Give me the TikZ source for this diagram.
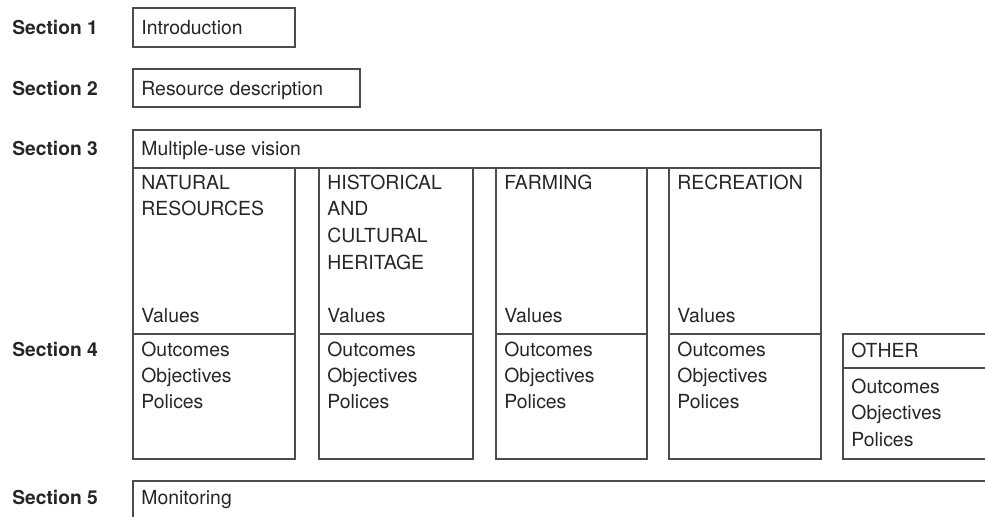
\documentclass[tikz,border=0pt]{standalone}
\usepackage{fontspec}
\setmainfont{TeX Gyre Heros}
\begin{document}
\begin{tikzpicture}[x=0.5pt,y=-0.5pt,
  boxline/.style={draw=black!70,line width=0.7pt},
  txt/.style={anchor=base west,inner sep=0pt,text=black!85,font=\fontsize{9.7}{13}\selectfont},
  sec/.style={txt,font=\fontsize{9.6}{13}\selectfont\bfseries}]
\useasboundingbox (0,0) rectangle (985,517);
\clip (0,0) rectangle (985,517);
% section labels
\node[sec] (s1) at (12,35) {Section 1};
\node[sec] (s2) at (12,96) {Section 2};
\node[sec] (s3) at (12,156) {Section 3};
\node[sec] (s4) at (12,357) {Section 4};
\node[sec] (s5) at (12,505) {Section 5};
% section 1, 2
\draw[boxline] (133,8) rectangle (295,47);
\node[txt] (intro) at (141,35) {Introduction};
\draw[boxline] (133,69) rectangle (360,107);
\node[txt] (resdesc) at (141,96) {Resource description};
% section 3 header
\draw[boxline] (133,130) rectangle (821,168);
\node[txt] (vision) at (141,156) {Multiple-use vision};
% columns
\foreach \l/\r [count=\i] in {133/295,319/473,496/647,669/821}{
  \draw[boxline] (\l,168) rectangle (\r,459);
  \draw[boxline] (\l,334) -- (\r,334);
}
\node[txt] (nat1) at (141,190) {NATURAL};
\node[txt] (nat2) at (141,216) {RESOURCES};
\node[txt] (his1) at (327,190) {HISTORICAL};
\node[txt] (his2) at (327,216) {AND};
\node[txt] (his3) at (327,243) {CULTURAL};
\node[txt] (his4) at (327,270) {HERITAGE};
\node[txt] (farm) at (504,190) {FARMING};
\node[txt] (rec) at (677,190) {RECREATION};
\foreach \x/\n in {141/a,327/b,504/c,677/d}{
  \node[txt] (val\n) at (\x,323) {Values};
  \node[txt] (out\n) at (\x,357) {Outcomes};
  \node[txt] (obj\n) at (\x,383) {Objectives};
  \node[txt] (pol\n) at (\x,409) {Polices};
}
% other
\draw[boxline] (843,334) rectangle (995,459);
\draw[boxline] (843,368) -- (995,368);
\node[txt] (other) at (851,358) {OTHER};
\node[txt] (oute) at (851,394) {Outcomes};
\node[txt] (obje) at (851,420) {Objectives};
\node[txt] (pole) at (851,447) {Polices};
% section 5
\draw[boxline] (133,481) rectangle (995,530);
\node[txt] (mon) at (141,505) {Monitoring};
\end{tikzpicture}
\end{document}
